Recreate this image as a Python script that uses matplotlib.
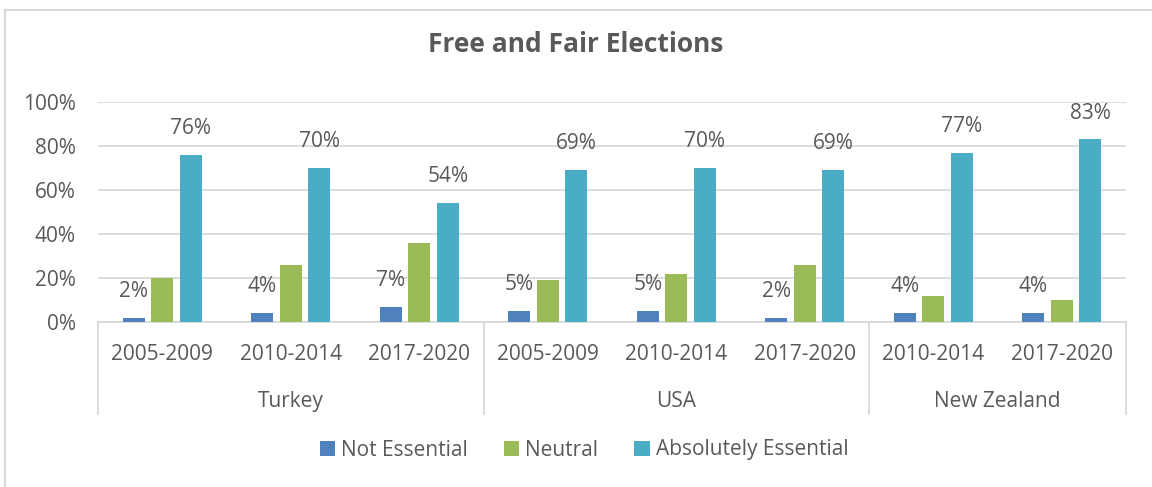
import numpy as np
import matplotlib.pyplot as plt
from matplotlib.lines import Line2D
from matplotlib.ticker import PercentFormatter

plt.rcParams['font.family'] = ['Open Sans', 'DejaVu Sans']

countries = ['Turkey', 'USA', 'New Zealand']
periods = ['2005-2009', '2010-2014', '2017-2020',
           '2005-2009', '2010-2014', '2017-2020',
           '2010-2014', '2017-2020']
country_sizes = [3, 3, 2]

not_essential = [0.02, 0.04, 0.07, 0.05, 0.05, 0.02, 0.04, 0.04]
neutral = [0.20, 0.26, 0.36, 0.19, 0.22, 0.26, 0.12, 0.10]
absolutely_essential = [0.76, 0.70, 0.54, 0.69, 0.70, 0.69, 0.77, 0.83]

series_names = ['Not Essential', 'Neutral', 'Absolutely Essential']
colors = ['#4F81BD', '#9BBB59', '#4BACC6']
text_color = '#595959'
grid_color = '#D9D9D9'
fs = 15

fig = plt.figure(figsize=(11.52, 4.87), dpi=100)
ax = fig.add_axes([98 / 1152, 1 - 322 / 487, 1028 / 1152, 220 / 487])

x = np.arange(len(periods))
width = 0.171
step = 0.222
all_series = [not_essential, neutral, absolutely_essential]
for i, (vals, c, name) in enumerate(zip(all_series, colors, series_names)):
    bars = ax.bar(x + (i - 1) * step, vals, width, color=c, label=name, zorder=3)
    # only the outer two series carry value labels
    if i != 1:
        for b, v in zip(bars, vals):
            ax.annotate(f'{v:.0%}', (b.get_x() + b.get_width() / 2, v),
                        xytext=(0, 19), textcoords='offset points',
                        ha='center', va='center', fontsize=fs, color=text_color)

ax.set_xlim(-0.5, len(periods) - 0.5)
ax.set_ylim(0, 1)
ax.set_yticks(np.arange(0, 1.01, 0.2))
ax.yaxis.set_major_formatter(PercentFormatter(1.0, decimals=0))
ax.grid(axis='y', color=grid_color, linewidth=1.3, zorder=0)

for s in ['top', 'right', 'left']:
    ax.spines[s].set_visible(False)
ax.spines['bottom'].set_color(grid_color)
ax.spines['bottom'].set_linewidth(1.3)

ax.tick_params(axis='y', length=0, pad=16, labelsize=fs, labelcolor=text_color)
ax.tick_params(axis='x', length=0, pad=16, labelsize=fs, labelcolor=text_color)
ax.set_xticks(x)
ax.set_xticklabels(periods)

# country grouping under the period labels
edges = np.concatenate([[0], np.cumsum(country_sizes)]) - 0.5
trans = ax.get_xaxis_transform()
for e in edges:
    ax.add_line(Line2D([e, e], [0, -0.418], transform=trans, color=grid_color,
                       linewidth=1.3, clip_on=False))
for name, lo, hi in zip(countries, edges[:-1], edges[1:]):
    ax.text((lo + hi) / 2, -0.36, name, transform=trans, ha='center',
            va='center', fontsize=fs, color=text_color)

fig.text(0.5, 1 - 45 / 487, 'Free and Fair Elections', ha='center', va='center',
         fontsize=19, fontweight='bold', color=text_color)

fig.legend(loc='center', bbox_to_anchor=(584 / 1152, 1 - 450 / 487), ncol=3,
           frameon=False, fontsize=fs, handlelength=0.75, handleheight=0.75,
           handletextpad=0.3, columnspacing=1.7, labelcolor=text_color)

# chart area outline
fig.add_artist(Line2D([5 / 1152, 1], [1 - 10 / 487] * 2, transform=fig.transFigure,
                      color=grid_color, linewidth=1.5))
fig.add_artist(Line2D([5 / 1152] * 2, [0, 1 - 10 / 487], transform=fig.transFigure,
                      color=grid_color, linewidth=1.5))

fig.savefig('out.png', dpi=100)
